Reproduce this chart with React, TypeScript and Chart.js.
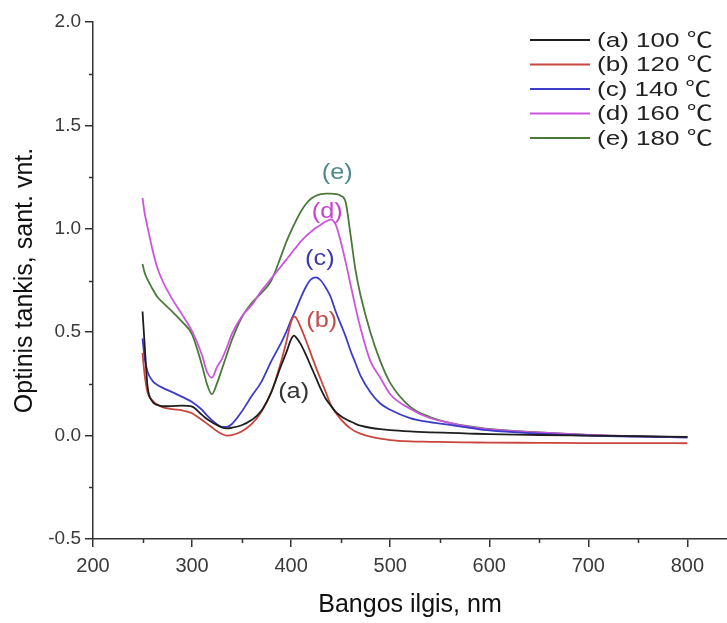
import React, { useEffect, useRef } from 'react';
import { Chart, registerables } from 'chart.js';

Chart.register(...registerables);

// Wavelength grid (nm)
const wavelengths = [250, 252, 255, 260, 265, 270, 280, 290, 300, 310, 315, 320, 325, 330, 335, 340, 350, 360, 370, 380, 390, 395, 400, 403, 405, 410, 415, 420, 425, 430, 435, 440, 445, 450, 455, 460, 465, 470, 480, 490, 500, 520, 540, 560, 580, 600, 650, 700, 750, 800];

// (a) 100 ℃
const seriesA = [0.60, 0.45, 0.24, 0.165, 0.148, 0.142, 0.143, 0.145, 0.14, 0.10, 0.08, 0.065, 0.052, 0.04, 0.035, 0.038, 0.05, 0.075, 0.12, 0.21, 0.34, 0.40, 0.465, 0.483, 0.475, 0.44, 0.39, 0.335, 0.28, 0.225, 0.178, 0.145, 0.115, 0.095, 0.08, 0.068, 0.057, 0.048, 0.038, 0.031, 0.026, 0.02, 0.016, 0.013, 0.01, 0.007, 0.003, 0.0, -0.003, -0.006];
// (b) 120 ℃
const seriesB = [0.40, 0.30, 0.21, 0.17, 0.15, 0.138, 0.128, 0.122, 0.108, 0.075, 0.058, 0.04, 0.022, 0.008, 0.0, 0.002, 0.02, 0.055, 0.115, 0.21, 0.36, 0.45, 0.55, 0.575, 0.57, 0.52, 0.46, 0.395, 0.33, 0.27, 0.21, 0.15, 0.11, 0.08, 0.055, 0.035, 0.02, 0.01, -0.005, -0.015, -0.022, -0.028, -0.03, -0.032, -0.033, -0.034, -0.035, -0.036, -0.036, -0.037];
// (c) 140 ℃
const seriesC = [0.47, 0.38, 0.31, 0.265, 0.245, 0.232, 0.21, 0.187, 0.163, 0.125, 0.098, 0.075, 0.055, 0.042, 0.042, 0.055, 0.115, 0.19, 0.26, 0.36, 0.45, 0.50, 0.56, 0.59, 0.612, 0.67, 0.72, 0.755, 0.765, 0.75, 0.715, 0.67, 0.60, 0.54, 0.48, 0.41, 0.35, 0.29, 0.21, 0.155, 0.125, 0.085, 0.065, 0.052, 0.038, 0.025, 0.01, 0.0, -0.005, -0.008];
// (d) 160 ℃
const seriesD = [1.15, 1.08, 1.01, 0.90, 0.81, 0.75, 0.66, 0.585, 0.505, 0.39, 0.31, 0.28, 0.33, 0.37, 0.425, 0.49, 0.575, 0.63, 0.70, 0.76, 0.82, 0.85, 0.88, 0.90, 0.91, 0.94, 0.965, 0.985, 1.005, 1.02, 1.035, 1.045, 1.02, 0.94, 0.84, 0.73, 0.62, 0.52, 0.36, 0.28, 0.20, 0.13, 0.085, 0.062, 0.042, 0.03, 0.015, 0.003, -0.004, -0.008];
// (e) 180 ℃
const seriesE = [0.83, 0.79, 0.755, 0.71, 0.67, 0.645, 0.60, 0.55, 0.49, 0.34, 0.25, 0.20, 0.25, 0.32, 0.39, 0.46, 0.57, 0.64, 0.69, 0.75, 0.87, 0.935, 0.99, 1.02, 1.04, 1.085, 1.12, 1.145, 1.16, 1.168, 1.17, 1.17, 1.168, 1.16, 1.13, 0.97, 0.80, 0.68, 0.50, 0.36, 0.255, 0.14, 0.09, 0.062, 0.045, 0.032, 0.015, 0.003, -0.004, -0.008];

const seriesLabels = ['(a) 100 ℃', '(b) 120 ℃', '(c) 140 ℃', '(d) 160 ℃', '(e) 180 ℃'];
const seriesColors = ['#1e1e1e', '#c8463c', '#3c3cc8', '#cc55dd', '#4a7a3a'];

// Curve tags placed in data coordinates
const tagTexts = ['(a)', '(b)', '(c)', '(d)', '(e)'];
const tagNm = [402.5, 431, 429, 436.5, 446.5];
const tagValue = [0.21, 0.554, 0.854, 1.08, 1.268];
const tagColors = ['#333333', '#c0504d', '#3a3ab4', '#c844cc', '#4f8a8a'];

// Axis ticks
const xMajorTicks = [200, 300, 400, 500, 600, 700, 800];
const xMinorTicks = [250, 350, 450, 550, 650, 750];
const yMajorTicks = [-0.5, 0.0, 0.5, 1.0, 1.5, 2.0];
const yMinorTicks = [-0.25, 0.25, 0.75, 1.25, 1.75];

const AXIS_COLOR = '#333333';
const FONT = '"Liberation Sans", Arial, "Noto Sans CJK SC", sans-serif';

function drawStretched(ctx: CanvasRenderingContext2D, text: string, x: number, y: number, sx: number) {
  ctx.save();
  ctx.translate(x, y);
  ctx.scale(sx, 1);
  ctx.fillText(text, 0, 0);
  ctx.restore();
}

const extrasPlugin = {
  id: 'extras',
  afterDraw(chart: any) {
    const { ctx, chartArea, scales } = chart;
    const xs = scales.x;
    const ys = scales.y;
    ctx.save();
    // minor ticks
    ctx.strokeStyle = AXIS_COLOR;
    ctx.lineWidth = 1.5;
    ctx.beginPath();
    xMinorTicks.forEach((v) => {
      const px = Math.round(xs.getPixelForValue(v)) + 0.5;
      ctx.moveTo(px, chartArea.bottom);
      ctx.lineTo(px, chartArea.bottom + 4);
    });
    yMinorTicks.forEach((v) => {
      const py = Math.round(ys.getPixelForValue(v)) + 0.5;
      ctx.moveTo(chartArea.left - 4, py);
      ctx.lineTo(chartArea.left, py);
    });
    ctx.stroke();

    // curve tags
    ctx.font = `22px ${FONT}`;
    ctx.textAlign = 'center';
    ctx.textBaseline = 'middle';
    tagTexts.forEach((t, i) => {
      ctx.fillStyle = tagColors[i];
      drawStretched(ctx, t, xs.getPixelForValue(tagNm[i]), ys.getPixelForValue(tagValue[i]), 1.15);
    });

    // legend
    const lx0 = 530;
    const lx1 = 590;
    const ly0 = 40;
    const dy = 24.5;
    ctx.font = `21px ${FONT}`;
    ctx.textAlign = 'left';
    ctx.textBaseline = 'middle';
    chart.data.datasets.forEach((ds: any, i: number) => {
      const y = ly0 + i * dy;
      ctx.strokeStyle = ds.borderColor;
      ctx.lineWidth = 2;
      ctx.beginPath();
      ctx.moveTo(lx0, y);
      ctx.lineTo(lx1, y);
      ctx.stroke();
      ctx.fillStyle = '#222222';
      drawStretched(ctx, ds.label, lx1 + 7, y + 1, 1.24);
    });
    ctx.restore();
  },
};

export default function App() {
  const canvasRef = useRef<HTMLCanvasElement | null>(null);

  useEffect(() => {
    const canvas = canvasRef.current;
    if (!canvas) return;
    const allSeries = [seriesA, seriesB, seriesC, seriesD, seriesE];
    const chart = new Chart(canvas, {
      type: 'line',
      data: {
        datasets: allSeries.map((vals, i) => ({
          label: seriesLabels[i],
          data: wavelengths.map((x, j) => ({ x, y: vals[j] })),
          borderColor: seriesColors[i],
          backgroundColor: seriesColors[i],
          borderWidth: 1.8,
          pointRadius: 0,
          fill: false,
          cubicInterpolationMode: 'monotone',
        })),
      },
      options: {
        animation: false,
        responsive: false,
        devicePixelRatio: 1,
        layout: { padding: { top: 22, right: 0, left: 0, bottom: 0 } },
        plugins: {
          legend: { display: false },
          tooltip: { enabled: false },
        },
        scales: {
          x: {
            type: 'linear',
            min: 200,
            max: 840,
            afterBuildTicks: (s: any) => {
              s.ticks = xMajorTicks.map((v) => ({ value: v }));
            },
            afterFit: (s: any) => {
              s.height = 84;
            },
            ticks: {
              autoSkip: false,
              maxRotation: 0,
              padding: 7,
              color: '#3a3a3a',
              font: { family: FONT, size: 20 },
              callback: (v: any) => String(v),
            },
            grid: {
              display: true,
              drawOnChartArea: false,
              drawTicks: true,
              tickLength: 8,
              color: AXIS_COLOR,
              lineWidth: 1.5,
            },
            border: { display: true, color: AXIS_COLOR, width: 1.5 },
            title: {
              display: true,
              text: 'Bangos ilgis, nm',
              color: '#111111',
              font: { family: FONT, size: 25 },
              padding: { top: 0, bottom: 3 },
            },
          },
          y: {
            type: 'linear',
            min: -0.5,
            max: 2.0,
            afterBuildTicks: (s: any) => {
              s.ticks = yMajorTicks.map((v) => ({ value: v }));
            },
            afterFit: (s: any) => {
              s.width = 93;
            },
            ticks: {
              autoSkip: false,
              padding: 4,
              color: '#3a3a3a',
              font: { family: FONT, size: 19 },
              callback: (v: any) => Number(v).toFixed(1),
            },
            grid: {
              display: true,
              drawOnChartArea: false,
              drawTicks: true,
              tickLength: 8,
              color: AXIS_COLOR,
              lineWidth: 1.5,
            },
            border: { display: true, color: AXIS_COLOR, width: 1.5 },
            title: {
              display: true,
              text: 'Optinis tankis, sant. vnt.',
              color: '#111111',
              font: { family: FONT, size: 25 },
              padding: { top: 10, bottom: 0 },
            },
          },
        },
      },
      plugins: [extrasPlugin],
    } as any);
    return () => chart.destroy();
  }, []);

  return (
    <div style={{ position: 'absolute', left: 0, top: 0, width: 727, height: 623, background: '#ffffff' }}>
      <canvas ref={canvasRef} width={727} height={623} style={{ display: 'block', width: 727, height: 623 }} />
    </div>
  );
}
